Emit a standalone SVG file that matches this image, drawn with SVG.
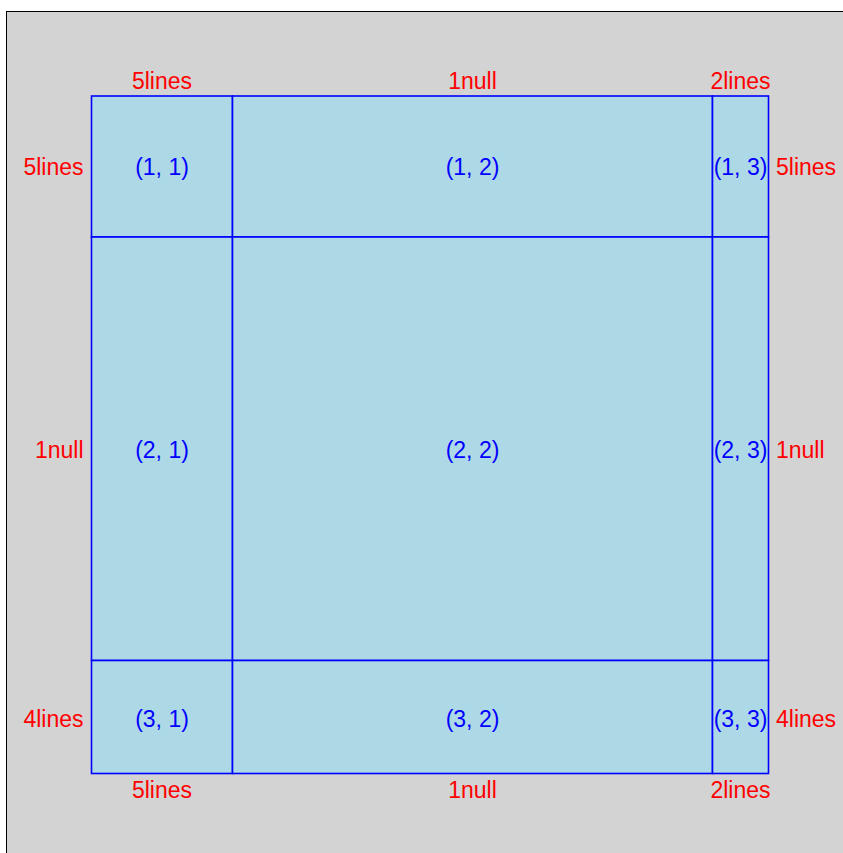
<svg xmlns="http://www.w3.org/2000/svg" width="843" height="853" viewBox="0 0 843 853">
<style>
.cell{fill:#ADD8E6;stroke:#0000FF;stroke-width:1.6}
.lbl{font-family:"Liberation Sans",Arial,sans-serif;font-size:23px;fill:#0000FF;text-anchor:middle}
.dim{font-family:"Liberation Sans",Arial,sans-serif;font-size:23px;fill:#FF0000}
.c{text-anchor:middle}.r{text-anchor:end}.l{text-anchor:start}
</style>
<rect x="0" y="0" width="843" height="853" fill="#FFFFFF"/>
<rect x="6.5" y="11.5" width="900" height="900" fill="#D3D3D3" stroke="#000000" stroke-width="1"/>
<g id="cells">
<g id="cell-1-1"><rect class="cell" x="91.5" y="96" width="141" height="141"/><text class="lbl" x="162" y="175">(1, 1)</text></g>
<g id="cell-1-2"><rect class="cell" x="232.5" y="96" width="480" height="141"/><text class="lbl" x="472.5" y="175">(1, 2)</text></g>
<g id="cell-1-3"><rect class="cell" x="712.5" y="96" width="56" height="141"/><text class="lbl" x="740.5" y="175">(1, 3)</text></g>
<g id="cell-2-1"><rect class="cell" x="91.5" y="237" width="141" height="423.5"/><text class="lbl" x="162" y="457.5">(2, 1)</text></g>
<g id="cell-2-2"><rect class="cell" x="232.5" y="237" width="480" height="423.5"/><text class="lbl" x="472.5" y="457.5">(2, 2)</text></g>
<g id="cell-2-3"><rect class="cell" x="712.5" y="237" width="56" height="423.5"/><text class="lbl" x="740.5" y="457.5">(2, 3)</text></g>
<g id="cell-3-1"><rect class="cell" x="91.5" y="660.5" width="141" height="113"/><text class="lbl" x="162" y="726.5">(3, 1)</text></g>
<g id="cell-3-2"><rect class="cell" x="232.5" y="660.5" width="480" height="113"/><text class="lbl" x="472.5" y="726.5">(3, 2)</text></g>
<g id="cell-3-3"><rect class="cell" x="712.5" y="660.5" width="56" height="113"/><text class="lbl" x="740.5" y="726.5">(3, 3)</text></g>
</g>
<g id="dims">
<text class="dim c" x="162" y="89.3">5lines</text>
<text class="dim c" x="472.5" y="89.3">1null</text>
<text class="dim c" x="740.5" y="89.3">2lines</text>
<text class="dim c" x="162" y="797.7">5lines</text>
<text class="dim c" x="472.5" y="797.7">1null</text>
<text class="dim c" x="740.5" y="797.7">2lines</text>
<text class="dim r" x="83.5" y="175">5lines</text>
<text class="dim r" x="83.5" y="457.5">1null</text>
<text class="dim r" x="83.5" y="726.5">4lines</text>
<text class="dim l" x="776" y="175">5lines</text>
<text class="dim l" x="776" y="457.5">1null</text>
<text class="dim l" x="776" y="726.5">4lines</text>
</g>
</svg>
